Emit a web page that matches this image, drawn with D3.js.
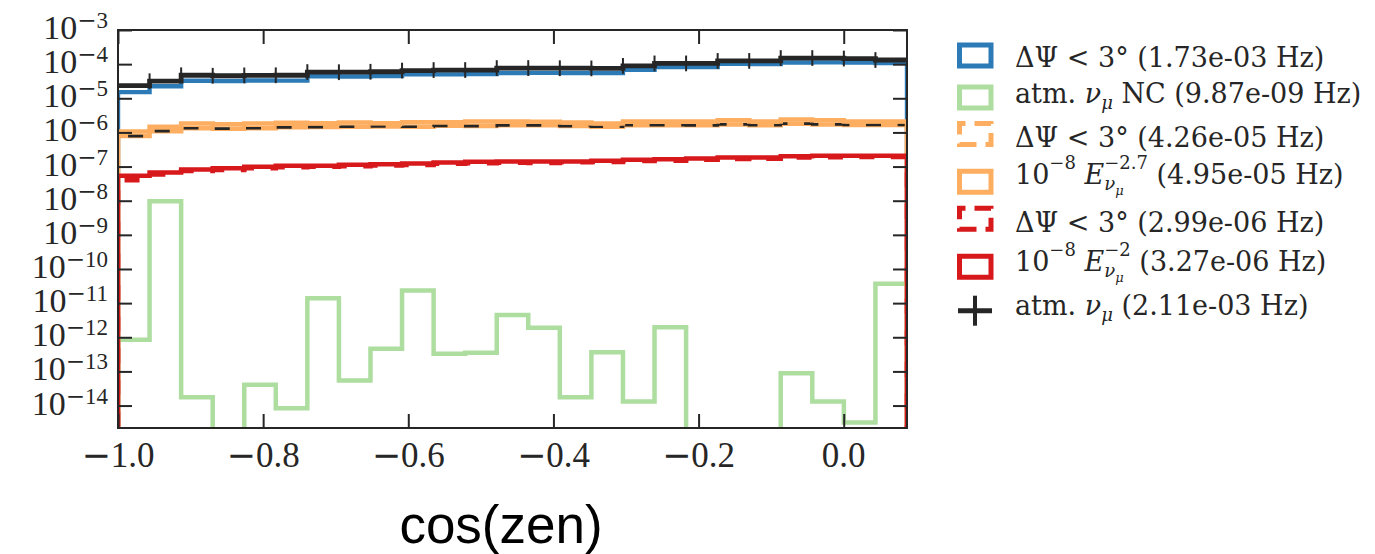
<!DOCTYPE html>
<html>
<head>
<meta charset="utf-8">
<script src="https://cdn.jsdelivr.net/npm/d3@7"></script>
<style>
  html, body { margin: 0; padding: 0; background: #fff; }
  svg text { white-space: pre; }
</style>
</head>
<body>
<svg id="chart" width="1375" height="554" xmlns="http://www.w3.org/2000/svg"></svg>
<script>
// Bin edges in cos(zenith): 25 equal bins from -1 up to 5 degrees above the horizon
const binEdges = [-1.0, -0.9565, -0.9130, -0.8695, -0.8260, -0.7826, -0.7391, -0.6956, -0.6521,
  -0.6086, -0.5651, -0.5216, -0.4781, -0.4347, -0.3912, -0.3477, -0.3042, -0.2607, -0.2172,
  -0.1737, -0.1302, -0.0868, -0.0433, 0.0002, 0.0437, 0.0872];

// Rates per bin (Hz)
const atmNuMu = [2.35e-5, 3.16e-5, 4.72e-5, 4.57e-5, 4.68e-5, 4.72e-5, 5.86e-5, 5.80e-5, 5.98e-5,
  6.49e-5, 6.70e-5, 6.72e-5, 7.67e-5, 7.67e-5, 7.60e-5, 7.50e-5, 8.90e-5, 1.05e-4, 1.05e-4,
  1.24e-4, 1.24e-4, 1.51e-4, 1.51e-4, 1.46e-4, 1.32e-4];
const atmNuMuPsi = [1.51e-5, 2.24e-5, 3.25e-5, 3.22e-5, 3.32e-5, 3.30e-5, 4.40e-5, 4.35e-5, 4.45e-5,
  5.00e-5, 5.02e-5, 5.10e-5, 5.50e-5, 5.55e-5, 5.48e-5, 5.45e-5, 6.84e-5, 8.20e-5, 8.15e-5,
  1.02e-4, 1.01e-4, 1.12e-4, 1.13e-4, 1.11e-4, 1.08e-4];
const atmNuMuNC = [8.45e-13, 9.6e-9, 1.75e-14, 0, 4.05e-14, 8.3e-15, 1.40e-11, 5.4e-14, 4.6e-13,
  2.36e-11, 3.28e-13, 3.5e-13, 4.46e-12, 1.90e-12, 1.75e-14, 3.65e-13, 1.31e-14, 1.98e-12,
  0, 0, 0, 8.85e-14, 1.31e-14, 3.2e-15, 3.7e-11];
const astroSoftPsi = [7.8e-7, 1.09e-6, 1.32e-6, 1.29e-6, 1.32e-6, 1.41e-6, 1.43e-6, 1.46e-6, 1.49e-6,
  1.46e-6, 1.56e-6, 1.53e-6, 1.61e-6, 1.61e-6, 1.53e-6, 1.46e-6, 1.63e-6, 1.63e-6, 1.61e-6,
  1.72e-6, 1.63e-6, 1.81e-6, 1.72e-6, 1.66e-6, 1.66e-6];
const astroSoft = [1.07e-6, 1.47e-6, 1.83e-6, 1.75e-6, 1.83e-6, 1.92e-6, 1.87e-6, 1.96e-6, 1.87e-6,
  2.00e-6, 2.00e-6, 2.10e-6, 2.10e-6, 2.06e-6, 1.96e-6, 1.83e-6, 2.10e-6, 2.10e-6, 2.10e-6,
  2.29e-6, 2.10e-6, 2.40e-6, 2.29e-6, 2.10e-6, 2.10e-6];
const astroHardPsi = [4.0e-8, 5.9e-8, 7.4e-8, 7.9e-8, 9.0e-8, 9.5e-8, 9.9e-8, 1.03e-7, 1.08e-7,
  1.12e-7, 1.20e-7, 1.25e-7, 1.30e-7, 1.28e-7, 1.33e-7, 1.36e-7, 1.45e-7, 1.48e-7, 1.58e-7,
  1.66e-7, 1.70e-7, 1.85e-7, 1.88e-7, 1.90e-7, 1.92e-7];
const astroHard = [5.36e-8, 6.70e-8, 8.20e-8, 8.95e-8, 9.84e-8, 1.05e-7, 1.05e-7, 1.13e-7, 1.17e-7,
  1.23e-7, 1.32e-7, 1.38e-7, 1.41e-7, 1.41e-7, 1.41e-7, 1.48e-7, 1.58e-7, 1.64e-7, 1.72e-7,
  1.84e-7, 1.84e-7, 2.01e-7, 2.07e-7, 2.07e-7, 2.07e-7];
// multiplicative uncertainty shown on the atm. numu bins
const atmNuMuErrFactor = 1.7;

const xTicks = [-1.0, -0.8, -0.6, -0.4, -0.2, 0.0];
const yTickExponents = [-3, -4, -5, -6, -7, -8, -9, -10, -11, -12, -13, -14];
const xDomain = [-1.0, 0.0872];
const yDomain = [2.2e-15, 1e-3];
const xTitle = "cos(zen)";

// Legend labels as runs of text (sup/sub handled by the run layout)
const legendLabels = [
  [{t: "ΔΨ < 3° (1.73e-03 Hz)"}],
  [{t: "atm. "}, {t: "ν", it: 1}, {t: "μ", it: 1, sub: 1}, {t: " NC (9.87e-09 Hz)"}],
  [{t: "ΔΨ < 3° (4.26e-05 Hz)"}],
  [{t: "10"}, {t: "−8", sup: 1}, {t: " "}, {t: "E", it: 1}, {t: "ν", it: 1, sub: 1, mark: 1},
   {t: "μ", it: 1, subsub: 1}, {t: "−2.7", sup: 1, back: 1}, {t: " (4.95e-05 Hz)"}],
  [{t: "ΔΨ < 3° (2.99e-06 Hz)"}],
  [{t: "10"}, {t: "−8", sup: 1}, {t: " "}, {t: "E", it: 1}, {t: "ν", it: 1, sub: 1, mark: 1},
   {t: "μ", it: 1, subsub: 1}, {t: "−2", sup: 1, back: 1}, {t: " (3.27e-06 Hz)"}],
  [{t: "atm. "}, {t: "ν", it: 1}, {t: "μ", it: 1, sub: 1}, {t: " (2.11e-03 Hz)"}]
];

// ---------------------------------------------------------------------------
const C = {
  blue: "#2c7bb6", green: "#aedda0", orange: "#fdae61", red: "#d7191c", dark: "#262626"
};
const plot = {left: 118, right: 907, top: 30, bottom: 428};
const MINUS_FONT = "'DejaVu Serif', serif";

const svg = d3.select("#chart");
const x = d3.scaleLinear().domain(xDomain).range([plot.left, plot.right]);
const y = d3.scaleLog().domain(yDomain).range([plot.bottom, plot.top]);

svg.append("defs").append("clipPath").attr("id", "plotclip")
  .append("rect")
  .attr("x", plot.left).attr("y", plot.top)
  .attr("width", plot.right - plot.left).attr("height", plot.bottom - plot.top);

const below = plot.bottom + 30;
const yv = v => (v > 0 ? y(v) : below);

// step outline of a histogram; "drop" closes the outline down at both ends
function stepPoints(vals, drop) {
  const pts = [];
  if (drop) pts.push([x(binEdges[0]), below]);
  vals.forEach((v, i) => {
    pts.push([x(binEdges[i]), yv(v)]);
    pts.push([x(binEdges[i + 1]), yv(v)]);
  });
  if (drop) pts.push([x(binEdges[binEdges.length - 1]), below]);
  return pts;
}
const line = d3.line();

const g = svg.append("g").attr("clip-path", "url(#plotclip)");

function hist(vals, color, width, opts = {}) {
  const p = g.append("path")
    .attr("d", line(stepPoints(vals, opts.drop !== false)))
    .attr("fill", "none")
    .attr("stroke", color)
    .attr("stroke-width", width)
    .attr("stroke-linejoin", "miter")
    .attr("stroke-linecap", "butt");
  if (opts.dash) p.attr("stroke-dasharray", opts.dash).attr("stroke-dashoffset", opts.offset || 0);
  return p;
}

hist(atmNuMuPsi, C.blue, 4.4);
hist(atmNuMuNC, C.green, 4.5);
// soft-spectrum signal after the angular cut: orange band with dark dashes along it
hist(astroSoftPsi, C.orange, 4.5);
hist(astroSoftPsi, C.dark, 2.6, {drop: false, dash: "15 16.6", offset: 21.5});
hist(astroSoft, C.orange, 4.5);
hist(astroHardPsi, C.red, 4.5, {dash: "15 16.6", offset: 0});
hist(astroHard, C.red, 4.5);

// atm. numu: thick step line with vertical uncertainty bars
hist(atmNuMu, C.dark, 4.8, {drop: false});
g.append("g").selectAll("line").data(atmNuMu).join("line")
  .attr("x1", (d, i) => x(binEdges[i])).attr("x2", (d, i) => x(binEdges[i]))
  .attr("y1", d => y(d * atmNuMuErrFactor)).attr("y2", d => y(d / atmNuMuErrFactor))
  .attr("stroke", C.dark).attr("stroke-width", 2);

// ---- axes (ticks inward on all four sides) ----
const tickLen = 14;
const axisStyle = sel => {
  sel.select(".domain").remove();
  sel.selectAll(".tick line").attr("stroke", C.dark).attr("stroke-width", 2);
};
svg.append("g").attr("transform", `translate(0,${plot.bottom})`)
  .call(d3.axisBottom(x).tickValues(xTicks).tickSize(-tickLen).tickFormat(""))
  .call(axisStyle);
svg.append("g").attr("transform", `translate(0,${plot.top})`)
  .call(d3.axisTop(x).tickValues(xTicks).tickSize(-tickLen).tickFormat(""))
  .call(axisStyle);
const yTickVals = yTickExponents.map(e => Math.pow(10, e));
svg.append("g").attr("transform", `translate(${plot.left},0)`)
  .call(d3.axisLeft(y).tickValues(yTickVals).tickSize(-tickLen).tickFormat(""))
  .call(axisStyle);
svg.append("g").attr("transform", `translate(${plot.right},0)`)
  .call(d3.axisRight(y).tickValues(yTickVals).tickSize(-tickLen).tickFormat(""))
  .call(axisStyle);

svg.append("rect")
  .attr("x", plot.left).attr("y", plot.top)
  .attr("width", plot.right - plot.left).attr("height", plot.bottom - plot.top)
  .attr("fill", "none").attr("stroke", C.dark).attr("stroke-width", 2);

// ---- run-based text layout for super/subscripts, emitted as one <text> ----
function runStyle(r, cfg) {
  let size = cfg.size, dy = 0;
  if (r.sup) { size = cfg.supSize; dy = cfg.supShift; }
  if (r.sub) { size = cfg.supSize; dy = cfg.subShift; }
  if (r.subsub) { size = cfg.subsubSize; dy = cfg.subsubShift; }
  return {size, dy, family: r.f || cfg.family, italic: !!r.it};
}
function applyStyle(sel, st) {
  return sel.attr("font-family", st.family).attr("font-size", st.size)
    .attr("font-style", st.italic ? "italic" : "normal");
}
function richText(parent, runs, px, py, cfg) {
  // measure each run
  const probe = svg.append("text").attr("xml:space", "preserve").attr("visibility", "hidden");
  const widths = runs.map(r => {
    applyStyle(probe, runStyle(r, cfg)).text(r.t);
    return probe.node().getComputedTextLength();
  });
  probe.remove();
  // place runs
  let cx = 0, mark = 0;
  const placed = runs.map((r, i) => {
    let start = cx;
    if (r.back) start = mark;
    if (r.mark) mark = cx;
    const end = start + widths[i];
    cx = r.back ? Math.max(cx, end) : end;
    return start;
  });
  const dx = cfg.anchor === "end" ? -cx : cfg.anchor === "middle" ? -cx / 2 : 0;
  const t = parent.append("text").attr("xml:space", "preserve").attr("fill", cfg.color);
  runs.forEach((r, i) => {
    const st = runStyle(r, cfg);
    applyStyle(t.append("tspan"), st)
      .attr("x", px + dx + placed[i]).attr("y", py + st.dy)
      .text(r.t);
  });
  return t;
}

// y tick labels 10^n
const yLabelCfg = {family: "'Liberation Serif', serif", size: 34, supSize: 23, supShift: -11,
  color: C.dark, anchor: "end"};
yTickExponents.forEach(e => {
  richText(svg, [{t: "10"}, {t: "−", sup: 1, f: MINUS_FONT}, {t: String(Math.abs(e)), sup: 1}],
    plot.left - 10, y(Math.pow(10, e)) + 9, yLabelCfg);
});

// x tick labels
const fmt = d3.format(".1f");
const xLabelCfg = {family: "'Liberation Serif', serif", size: 35, color: C.dark, anchor: "middle"};
xTicks.forEach(v => {
  const s = fmt(Math.abs(v));
  const runs = v < 0 ? [{t: "−", f: MINUS_FONT}, {t: s}] : [{t: s}];
  richText(svg, runs, x(v), 467, xLabelCfg);
});

// x axis title
svg.append("text")
  .attr("x", 501).attr("y", 543)
  .attr("text-anchor", "middle")
  .attr("font-family", "'Liberation Sans', Arial, sans-serif")
  .attr("font-size", 53)
  .attr("fill", "#000")
  .text(xTitle);

// ---- legend ----
const legendStyles = [
  {color: C.blue}, {color: C.green}, {color: C.orange, dashed: 1}, {color: C.orange},
  {color: C.red, dashed: 1}, {color: C.red}, {errbar: 1}
];
const legendRows = [55.5, 97.5, 134, 181.7, 218.7, 266.7, 310.7];
const legendBaselines = [66.7, 103.3, 146.7, 184, 231.7, 271, 315];
const legendCfg = {family: "'DejaVu Serif', serif", size: 27, supSize: 18, supShift: -15,
  subShift: 6, subsubSize: 13, subsubShift: 11, color: C.dark, anchor: "start"};
const lg = svg.append("g");
legendStyles.forEach((s, i) => {
  const cy = legendRows[i];
  const x0 = 959.5, x1 = 991, y0 = cy - 10.5, y1 = cy + 10.5;
  if (s.errbar) {
    lg.append("line").attr("x1", 958).attr("x2", 992).attr("y1", cy).attr("y2", cy)
      .attr("stroke", C.dark).attr("stroke-width", 5);
    lg.append("line").attr("x1", 975).attr("x2", 975).attr("y1", cy - 15).attr("y2", cy + 15)
      .attr("stroke", C.dark).attr("stroke-width", 4);
  } else {
    const p = lg.append("path")
      .attr("d", `M${x0},${y1}L${x1},${y1}L${x1},${y0}L${x0},${y0}Z`)
      .attr("fill", "none").attr("stroke", s.color).attr("stroke-width", 5)
      .attr("stroke-linejoin", "miter");
    if (s.dashed) p.attr("stroke-dasharray", "17 9").attr("stroke-dashoffset", 26);
  }
  richText(lg, legendLabels[i], 1015, legendBaselines[i], legendCfg);
});
</script>
</body>
</html>
